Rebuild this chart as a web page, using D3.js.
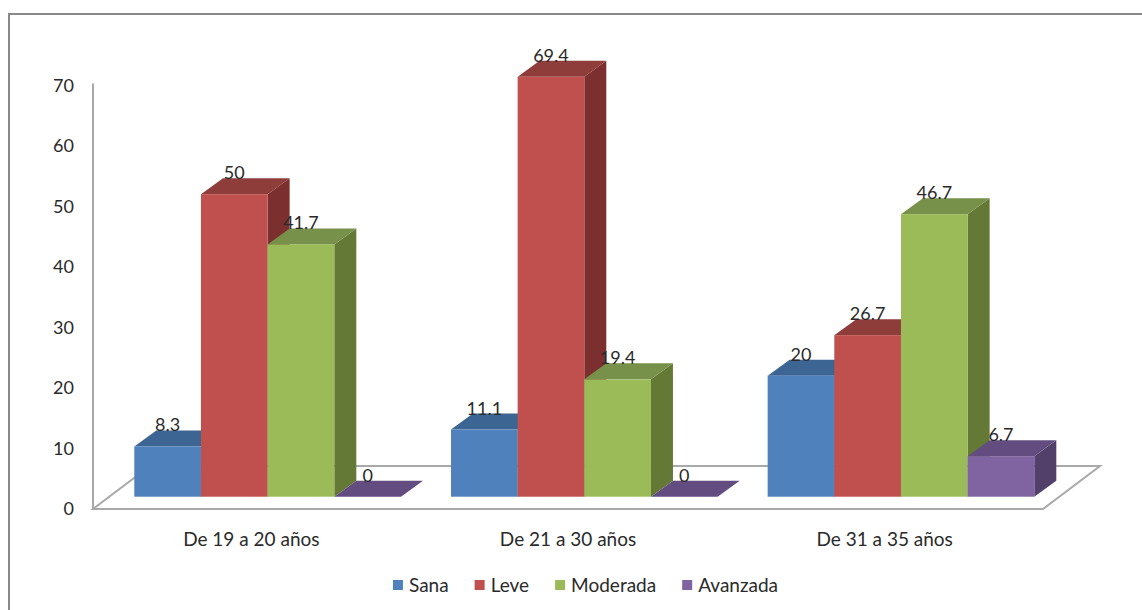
<!DOCTYPE html>
<html><head><meta charset="utf-8">
<script src="https://cdn.jsdelivr.net/npm/d3@7"></script>
<style>body{margin:0;background:#fff}svg{display:block}text{font-family:Lato,"Open Sans",sans-serif}</style>
</head><body>
<svg id="c" width="1142" height="610"></svg>
<script>
const categories = ["De 19 a 20 años", "De 21 a 30 años", "De 31 a 35 años"];
const seriesNames = ["Sana", "Leve", "Moderada", "Avanzada"];
const sana = [8.3, 11.1, 20];
const leve = [50, 69.4, 26.7];
const moderada = [41.7, 19.4, 46.7];
const avanzada = [0, 0, 6.7];
const yTicks = [0, 10, 20, 30, 40, 50, 60, 70];
const frontColors = ["#4F81BD", "#C0504D", "#9BBB59", "#8064A2"];
const topColors = ["#3D6593", "#8F3D3B", "#77904A", "#634D80"];
const sideColors = ["#33557C", "#7B302F", "#637935", "#53406A"];

const seriesValues = [sana, leve, moderada, avanzada];
const svg = d3.select("#c");

// frame
svg.append("rect").attr("x", 9).attr("y", 14).attr("width", 1145).attr("height", 610)
  .attr("fill", "none").attr("stroke", "#898989").attr("stroke-width", 2);

const y = d3.scaleLinear().domain([0, 70]).range([509, 509 - 70 * 6.05]);
const x0 = d3.scaleBand().domain(categories).range([93, 1043]).padding(0);
const x1 = d3.scaleBand().domain(seriesNames).range([25, x0.bandwidth() - 25]).padding(0);

const floorD = [57, -43];
const f0 = 0.286, bd = [22, -16];
const off = [floorD[0] * f0, floorD[1] * f0];

// floor
const fl = [[93, 509], [1043, 509], [1043 + floorD[0], 509 + floorD[1]], [93 + floorD[0], 509 + floorD[1]]];
svg.append("polygon").attr("points", fl.map(p => p.join(",")).join(" "))
  .attr("fill", "#fff").attr("stroke", "#a9a9a9").attr("stroke-width", 2);

// y axis
svg.append("line").attr("x1", 93).attr("x2", 93).attr("y1", y(70) - 2).attr("y2", y(0) + 1)
  .attr("stroke", "#a9a9a9").attr("stroke-width", 2);
svg.selectAll(".yt").data(yTicks).join("text")
  .attr("x", 74).attr("y", d => y(d)).attr("dy", "0.36em").attr("text-anchor", "end")
  .attr("font-size", 18).attr("fill", "#2a2a2a").text(d => d);

// bars
const bars = [];
categories.forEach((c, ci) => {
  seriesNames.forEach((s, si) => {
    bars.push({ c, s, si, v: seriesValues[si][ci] });
  });
});
const g = svg.append("g");
bars.forEach(b => {
  const xl = x0(b.c) + x1(b.s) + off[0];
  const xr = xl + x1.bandwidth();
  const yb = y(0) + off[1];
  const yt = y(b.v) + off[1];
  const side = [[xr, yb], [xr + bd[0], yb + bd[1]], [xr + bd[0], yt + bd[1]], [xr, yt]];
  const top = [[xl, yt], [xr, yt], [xr + bd[0], yt + bd[1]], [xl + bd[0], yt + bd[1]]];
  g.append("polygon").attr("points", side.map(p => p.join(",")).join(" ")).attr("fill", sideColors[b.si]);
  g.append("polygon").attr("points", top.map(p => p.join(",")).join(" ")).attr("fill", topColors[b.si]);
  g.append("rect").attr("x", xl).attr("y", yt).attr("width", x1.bandwidth()).attr("height", yb - yt)
    .attr("fill", frontColors[b.si]);
});
// labels
svg.selectAll(".lbl").data(bars).join("text")
  .attr("x", b => x0(b.c) + x1(b.s) + off[0] + x1.bandwidth() / 2)
  .attr("y", b => y(b.v) + off[1] + bd[1] + 1)
  .attr("text-anchor", "middle").attr("font-size", 18).attr("fill", "#2a2a2a")
  .text(b => b.v);

// category labels
svg.selectAll(".cl").data(categories).join("text")
  .attr("x", d => x0(d) + x0.bandwidth() / 2).attr("y", 539).attr("dy", "0.36em")
  .attr("text-anchor", "middle").attr("font-size", 19).attr("fill", "#2a2a2a").text(d => d);

// legend
const lg = svg.append("g");
let lx = 0;
seriesNames.forEach((s, i) => {
  const it = lg.append("g");
  it.append("rect").attr("x", lx).attr("y", 580).attr("width", 10).attr("height", 10).attr("fill", frontColors[i]);
  const t = it.append("text").attr("x", lx + 16).attr("y", 585).attr("dy", "0.36em")
    .attr("font-size", 19).attr("fill", "#2a2a2a").text(s);
  lx += 16 + t.node().getComputedTextLength() + 26;
});
const total = lx - 26;
lg.attr("transform", `translate(${585.5 - total / 2},0)`);
</script>
</body></html>
